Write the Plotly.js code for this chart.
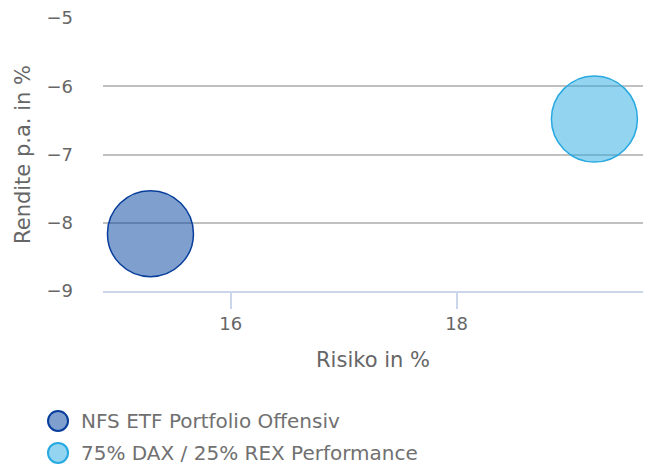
<!DOCTYPE html>
<html><head><meta charset="utf-8">
<script src="https://cdn.plot.ly/plotly-3.0.1.min.js"></script>
<style>html,body{margin:0;padding:0;background:#fff}#chart{width:648px;height:464px}</style>
</head><body><div id="chart"></div>
<script>
const seriesNames = ["NFS ETF Portfolio Offensiv", "75% DAX / 25% REX Performance"];
const risk = [15.29, 19.22];
const returns = [-8.16, -6.48];
const xTicks = [16, 18];
const yTicks = [-9, -8, -7, -6, -5];
const fills = ["rgba(0,66,160,0.5)", "rgba(39,169,225,0.5)"];
const borders = ["rgb(8,62,155)", "rgb(39,169,225)"];
const FONT = "DejaVu Sans, sans-serif";

const traces = seriesNames.map((n, i) => ({
  type: "scatter", mode: "markers", name: n,
  x: [risk[i]], y: [returns[i]],
  marker: {size: 86, color: fills[i], line: {color: borders[i], width: 1.5}},
  hoverinfo: "x+y+name"
}));

// custom legend below the plot (plot area: 103..643 px wide, 18..291 px high)
const legendY = [-0.476, -0.593];
const shapes = seriesNames.map((n, i) => ({
  type: "circle", xref: "paper", yref: "paper",
  xsizemode: "pixel", ysizemode: "pixel",
  xanchor: -0.0833, yanchor: legendY[i],
  x0: -10, x1: 10, y0: -10, y1: 10,
  fillcolor: fills[i], line: {color: borders[i], width: 2}
}));
const annotations = seriesNames.map((n, i) => ({
  text: n, xref: "paper", yref: "paper", x: -0.045, y: legendY[i],
  xanchor: "left", yanchor: "middle", showarrow: false,
  font: {family: FONT, size: 20, color: "#707070"}
}));

const layout = {
  width: 648, height: 464,
  margin: {l: 103, r: 5, t: 18, b: 173},
  paper_bgcolor: "#fff", plot_bgcolor: "#fff",
  font: {family: FONT, color: "#666666", size: 18},
  showlegend: false,
  shapes: shapes, annotations: annotations,
  xaxis: {range: [14.87, 19.65], tickvals: xTicks, ticktext: xTicks.map(String),
    showgrid: false, zeroline: false, showline: true, linecolor: "#ccd6eb", linewidth: 1.5,
    ticks: "outside", ticklen: 16, tickcolor: "#ccd6eb", tickwidth: 1.5,
    tickfont: {size: 18, color: "#666666"},
    title: {text: "Risiko in %", font: {size: 21, color: "#666666"}, standoff: 19}},
  yaxis: {range: [-9, -5], tickvals: yTicks, ticktext: yTicks.map(v => "\u2212" + Math.abs(v)),
    showgrid: true, gridcolor: "#c0c0c0", gridwidth: 1.5, zeroline: false, showline: false,
    ticks: "", ticklabelstandoff: 29,
    tickfont: {size: 18, color: "#666666"},
    title: {text: "Rendite p.a. in %", font: {size: 21, color: "#666666"}, standoff: 10}}
};
Plotly.newPlot("chart", traces, layout, {displayModeBar: false});
</script></body></html>
